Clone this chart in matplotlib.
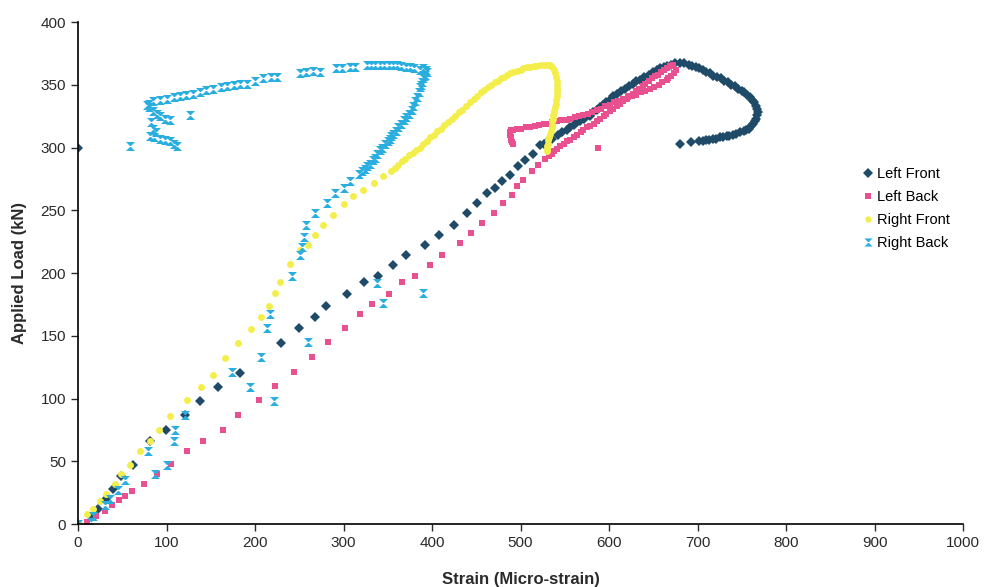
import matplotlib
matplotlib.use("Agg")
import matplotlib.pyplot as plt
from matplotlib.path import Path

plt.rcParams["font.family"] = ["Liberation Sans", "DejaVu Sans"]

# Left Front (dark diamonds)
lf_x = [0, 16, 23, 32, 40, 49, 62, 81, 99, 121, 138, 158, 183, 229, 250, 268, 280, 304, 323, 339,
        356, 371, 392, 408, 425, 439, 451, 462, 471, 479, 488, 497, 505, 514,
        522, 527, 531, 536, 542, 547, 552, 556, 560, 564, 567, 572, 578, 582, 586, 590, 593, 597,
        601, 605, 609, 614, 618, 622, 627, 631, 635, 640, 645, 650, 654, 658, 662, 666, 670, 675,
        680, 685, 690, 694, 698, 702, 706, 710, 714, 718, 722, 726, 730, 734, 738, 742, 746, 750,
        753, 756, 759, 762, 764, 766, 767, 768, 767, 766, 765, 763, 760, 758, 755, 752, 748, 744,
        740, 736, 733, 729, 725, 721, 717, 713, 710, 706, 702, 693, 680, 0]
lf_y = [0, 6, 12, 20, 28, 38, 47, 66, 75, 87, 98, 109, 120, 144, 156, 165, 174, 183, 193, 198,
        206, 214, 222, 230, 238, 248, 256, 264, 268, 273, 278, 285, 290, 295,
        302, 303, 305, 307, 310, 312, 314, 316, 318, 320, 321, 323, 325, 328, 330, 332, 334, 336,
        338, 341, 343, 345, 347, 349, 351, 353, 354, 356, 358, 360, 362, 363, 364, 365, 366, 367,
        367, 367, 366, 365, 364, 363, 362, 360, 359, 357, 356, 355, 353, 352, 350, 349, 347, 345,
        344, 342, 340, 338, 336, 333, 331, 328, 326, 323, 321, 319, 317, 315, 314, 313, 312, 311,
        310, 309, 309, 308, 308, 307, 307, 306, 306, 305, 305, 304, 303, 300]

# Left Back (pink squares)
lb_x = [0, 10, 20, 30, 38, 46, 53, 61, 74, 89, 105, 123, 141, 164, 181, 204, 223, 244, 264, 282,
        302, 319, 332, 351, 366, 381, 398, 411, 432, 444, 457, 470, 480, 490, 496, 503, 513, 520,
        528, 532, 535, 538, 541, 545, 549, 553, 556, 560, 564, 568, 571, 575, 579, 583, 586, 590,
        594, 597, 601, 605, 609, 612, 616, 620, 623, 627, 630, 634, 638, 641, 645, 648, 652, 655,
        659, 662, 666, 669, 672,
        676, 673, 670, 667, 665, 660, 656, 651, 646, 641, 636, 631, 626, 621, 616, 611, 606, 601,
        596, 591, 586, 581, 576, 571, 566, 561, 556, 551, 546, 541, 536, 531, 526, 521, 516, 511,
        506, 501, 496, 492, 489, 488, 488, 489, 489, 490, 491, 587]
lb_y = [0, 2, 6, 10, 15, 19, 22, 26, 32, 40, 48, 58, 66, 75, 87, 99, 110, 121, 133, 145,
        156, 167, 175, 183, 193, 198, 206, 214, 224, 232, 240, 248, 256, 262, 269, 274, 281, 286,
        291, 293, 295, 297, 299, 301, 303, 305, 306, 308, 310, 312, 314, 316, 317, 319, 321, 323,
        325, 327, 329, 331, 333, 335, 337, 339, 341, 343, 345, 347, 349, 351, 353, 355, 357, 358,
        360, 362, 363, 365, 366,
        362, 359, 357, 355, 354, 352, 350, 348, 347, 345, 344, 342, 341, 340, 339, 337, 336, 334,
        333, 331, 330, 328, 327, 326, 325, 324, 323, 322, 322, 321, 320, 319, 319, 318, 317, 316,
        316, 315, 315, 314, 314, 312, 310, 308, 306, 304, 303, 300]

# Right Front (yellow)
rf_x = [0, 10, 17, 25, 32, 42, 49, 59, 70, 81, 91, 104, 123, 139, 153, 166, 181, 196, 207, 216,
        222, 228, 239, 251, 260, 268, 277, 288, 300, 311, 322, 334, 345,
        354, 358, 362, 366, 370, 374, 378, 382, 386, 390, 394, 398, 402, 406, 410, 414, 418, 422,
        426, 430, 434, 438, 443, 447, 451, 455, 459, 463, 467, 471, 474, 478, 481, 485, 488, 492,
        496, 500, 503, 507, 511, 515, 518, 522, 526, 530, 533, 536, 538, 539, 540, 541, 541, 541,
        541, 541, 540, 540, 539, 538, 537, 537, 536, 535, 535, 534, 533, 532, 531, 531, 530, 530, 530]
rf_y = [0, 8, 12, 18, 24, 32, 40, 47, 58, 66, 75, 86, 99, 109, 119, 132, 144, 155, 165, 174,
        184, 193, 207, 218, 222, 230, 238, 246, 255, 261, 266, 272, 277,
        281, 284, 286, 289, 291, 294, 296, 298, 300, 303, 305, 308, 310, 313, 315, 318, 320, 323,
        325, 328, 330, 333, 336, 339, 341, 344, 346, 348, 350, 352, 353, 355, 356, 358, 359, 360,
        361, 362, 363, 364, 364, 365, 365, 366, 366, 366, 366, 364, 362, 359, 356, 353, 350, 347,
        344, 341, 338, 335, 332, 329, 326, 323, 321, 318, 316, 313, 311, 308, 306, 303, 301, 299, 297]

# Right Back (cyan)
rb_x = [0, 15, 17, 30, 36, 45, 53, 87, 100, 79, 108, 110, 121, 194, 174, 221, 207, 260, 213, 217,
        338, 345, 390, 242, 251, 253, 255, 258, 268, 281, 290, 300, 307,
        318, 321, 324, 327, 330, 333, 335, 338, 341, 344, 347, 350, 352, 354, 356, 359, 362, 365,
        368, 371, 374, 377, 379, 381, 383, 385, 386, 388, 389, 390, 391, 392, 394, 393, 390,
        386, 380, 375, 371, 365, 360, 356, 351, 346, 341, 336, 331, 326, 313, 307, 298, 292,
        273, 266, 258, 251, 225, 218, 209, 200, 191, 183, 176, 168, 161, 153, 145, 138, 130, 122,
        115, 108, 100, 93, 85, 80, 78, 80, 85, 89, 93, 98, 104, 127, 82, 85, 88, 81, 86, 93, 98,
        104, 108, 112, 59]
rb_y = [0, 2, 6, 15, 20, 27, 35, 40, 47, 58, 66, 75, 87, 109, 121, 98, 133, 145, 156, 167,
        192, 176, 184, 198, 214, 221, 229, 238, 248, 256, 264, 268, 273,
        279, 281, 283, 285, 287, 290, 292, 295, 298, 300, 303, 305, 307, 309, 311, 313, 316, 319,
        322, 324, 327, 330, 333, 337, 340, 344, 348, 350, 352, 355, 357, 358, 360, 362, 363,
        362, 363, 364, 364, 365, 366, 366, 366, 366, 366, 366, 366, 366, 364, 364, 363, 363,
        360, 361, 360, 359, 356, 356, 355, 353, 351, 351, 350, 349, 348, 347, 346, 344, 343, 342,
        341, 340, 339, 338, 337, 335, 334, 332, 329, 327, 325, 323, 322, 326, 320, 315, 312, 309, 308,
        307, 306, 305, 303, 301, 301]

hourglass = Path([(-1, 1), (1, 1), (-1, -1), (1, -1), (-1, 1)],
                 [Path.MOVETO, Path.LINETO, Path.LINETO, Path.LINETO, Path.CLOSEPOLY])

fig = plt.figure(figsize=(9.84, 5.87), dpi=100)
ax = fig.add_axes([0.0793, 0.1073, 0.8994, 0.8552])

ax.plot(lf_x, lf_y, linestyle="none", marker="D", markersize=5.5, color="#1f4a68",
        markeredgewidth=0, label="Left Front")
ax.plot(lb_x, lb_y, linestyle="none", marker="s", markersize=5, color="#e8508f",
        markeredgewidth=0, label="Left Back")
ax.plot(rf_x, rf_y, linestyle="none", marker="o", markersize=5, color="#f3ee4c",
        markeredgewidth=0, label="Right Front")
ax.plot(rb_x, rb_y, linestyle="none", marker=hourglass, markersize=6.5, color="#2aaee0",
        markeredgewidth=0, label="Right Back")

ax.set_xlim(0, 1000)
ax.set_ylim(0, 400)
ax.set_xticks(range(0, 1001, 100))
ax.set_yticks(range(0, 401, 50))
ax.spines["top"].set_visible(False)
ax.spines["right"].set_visible(False)
ax.spines["left"].set_linewidth(1.2)
ax.spines["bottom"].set_linewidth(1.2)
ax.tick_params(direction="out", length=5, width=1, labelsize=11, colors="#2a2a2a")

ax.set_xlabel("Strain (Micro-strain)", fontsize=12, fontweight="bold", color="#2a2a2a", labelpad=16)
ax.set_ylabel("Applied Load (kN)", fontsize=12, fontweight="bold", color="#2a2a2a", labelpad=10)

ax.legend(loc="upper left", bbox_to_anchor=(0.87, 0.738), frameon=False, fontsize=10.5,
          handletextpad=0.1, labelspacing=0.62, handlelength=1.0, markerscale=0.9)

fig.savefig("out.png", dpi=100)
